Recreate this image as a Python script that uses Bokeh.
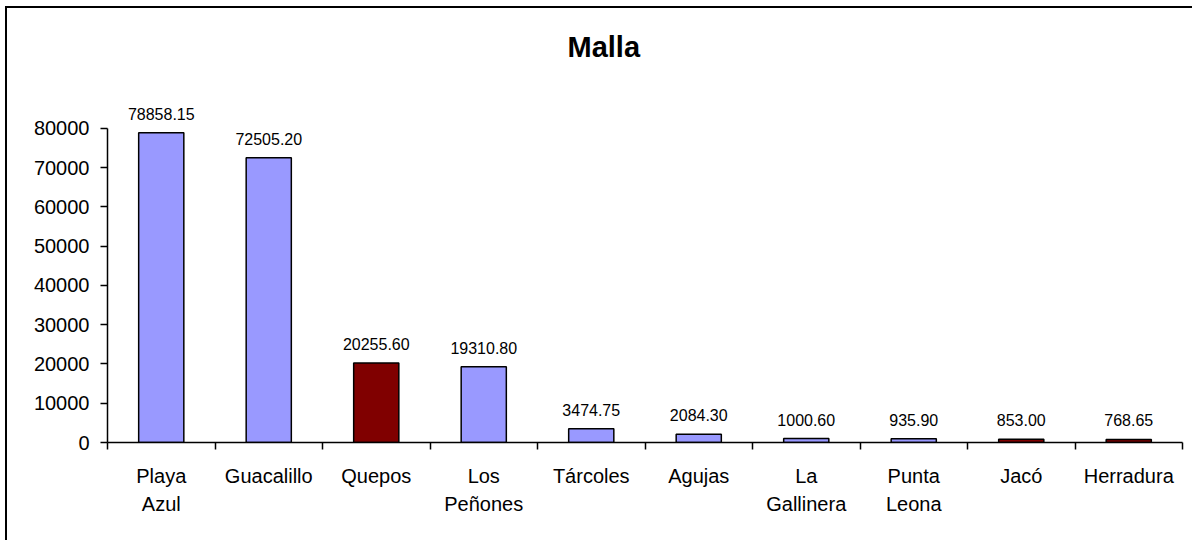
from bokeh.plotting import figure
from bokeh.models import ColumnDataSource, FixedTicker, Range1d
from bokeh.core.properties import value
from bokeh.embed import file_html
from bokeh.resources import INLINE

categories = ["Playa Azul", "Guacalillo", "Quepos", "Los Peñones", "Tárcoles",
              "Agujas", "La Gallinera", "Punta Leona", "Jacó", "Herradura"]
tick_labels = ["Playa\nAzul", "Guacalillo", "Quepos", "Los\nPeñones", "Tárcoles",
               "Agujas", "La\nGallinera", "Punta\nLeona", "Jacó", "Herradura"]
values = [78858.15, 72505.20, 20255.60, 19310.80, 3474.75,
          2084.30, 1000.60, 935.90, 853.00, 768.65]
highlighted = ["Quepos", "Jacó", "Herradura"]
y_ticks = [0, 10000, 20000, 30000, 40000, 50000, 60000, 70000, 80000]

BLUE = "#9999FF"
RED = "#800000"
FONT = "Liberation Sans"

n = len(categories)
xs = [i + 0.5 for i in range(n)]
src = ColumnDataSource(dict(
    x=xs,
    top=values,
    label=[f"{v:.2f}" for v in values],
    color=[RED if c in highlighted else BLUE for c in categories],
))

p = figure(width=1187, height=534, output_backend="svg", toolbar_location=None,
           x_range=Range1d(0, n), y_range=Range1d(0, 91640),
           title="Malla", min_border_left=100, min_border_right=12,
           min_border_bottom=100, min_border_top=72)
p.styles = {"border-left": "2px solid #000", "border-top": "2px solid #000",
            "margin-left": "5px", "margin-top": "6px"}

p.vbar(x="x", top="top", width=0.42, bottom=0, source=src,
       fill_color="color", line_color="black", line_width=1.5)
p.text(x="x", y="top", text="label", source=src, text_align="center",
       text_baseline="bottom", y_offset=-13, text_font=value(FONT),
       text_font_size="16px", text_color="black")

p.title.align = "left"
p.title.offset = 460
p.title.text_font = FONT
p.title.text_font_size = "29px"
p.title.text_font_style = "bold"
p.title.text_color = "black"
p.title.standoff = 40

p.grid.visible = False
p.outline_line_color = None

xa = p.xaxis[0]
xa.ticker = FixedTicker(ticks=xs, minor_ticks=list(range(n + 1)))
xa.major_label_overrides = {x: t for x, t in zip(xs, tick_labels)}
xa.major_tick_line_color = None
xa.minor_tick_line_color = "black"
xa.minor_tick_line_width = 1.5
xa.minor_tick_out = 7
xa.minor_tick_in = 0
xa.axis_line_width = 1.5
xa.axis_line_color = "black"
xa.major_label_text_font = FONT
xa.major_label_text_font_size = "20px"
xa.major_label_text_color = "black"
xa.major_label_text_line_height = 1.3
xa.major_label_standoff = 15

ya = p.yaxis[0]
ya.ticker = FixedTicker(ticks=y_ticks)
ya.bounds = (0, 80000)
ya.minor_tick_line_color = None
ya.major_tick_line_color = "black"
ya.major_tick_line_width = 1.5
ya.major_tick_out = 7
ya.major_tick_in = 0
ya.axis_line_width = 1.5
ya.axis_line_color = "black"
ya.major_label_text_font = FONT
ya.major_label_text_font_size = "20px"
ya.major_label_text_color = "black"
ya.major_label_standoff = 11

open("out.html", "w").write(file_html(p, INLINE))
